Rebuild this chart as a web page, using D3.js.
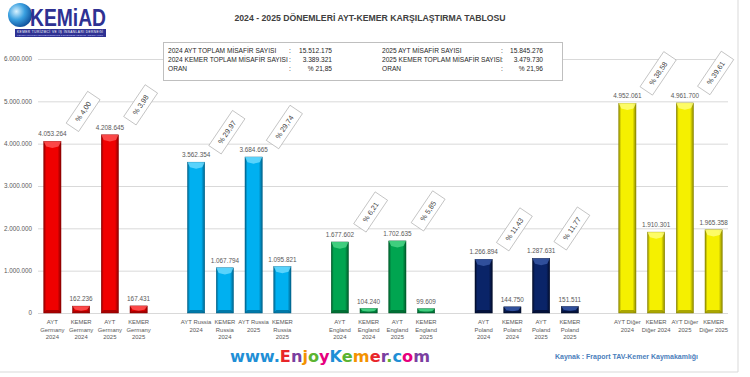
<!DOCTYPE html>
<meta charset="utf-8">
<style>
  body { margin: 0; background: #fff; }
  svg { display: block; font-family: "Liberation Sans", Arial, sans-serif; }
  .grid line { stroke: #d9d9d9; stroke-width: 1px; }
  .ytick { font-size: 6.3px; fill: #595959; text-anchor: end; }
  .xlab { font-size: 5.9px; fill: #595959; text-anchor: middle; }
  .val { font-size: 6.4px; fill: #595959; text-anchor: middle; }
  .info text { font-size: 6.6px; fill: #262626; }
  .oran text { font-size: 7.2px; fill: #404040; text-anchor: middle; }
</style>
<div id="chart"></div>
<script src="https://d3js.org/d3.v7.min.js"></script>
<script>
// data
var countries = ["Germany", "Russia", "England", "Poland", "Diğer"];
var ayt2024   = [4053264, 3562354, 1677602, 1266894, 4952061];
var kemer2024 = [162236, 1067794, 104240, 144750, 1910301];
var ayt2025   = [4208645, 3684665, 1702635, 1287631, 4961700];
var kemer2025 = [167431, 1095821, 99609, 151511, 1965358];
var oran2024  = ["% 4,00", "% 29,97", "% 6,21", "% 11,43", "% 38,58"];
var oran2025  = ["% 3,98", "% 29,74", "% 5,85", "% 11,77", "% 39,61"];
var xLabels = [
  [["AYT", "Germany", "2024"], ["KEMER", "Germany", "2024"], ["AYT", "Germany", "2025"], ["KEMER", "Germany", "2025"]],
  [["AYT Russia", "2024"], ["KEMER", "Russia", "2024"], ["AYT Russia", "2025"], ["KEMER", "Russia", "2025"]],
  [["AYT", "England", "2024"], ["KEMER", "England", "2024"], ["AYT", "England", "2025"], ["KEMER", "England", "2025"]],
  [["AYT", "Poland", "2024"], ["KEMER", "Poland", "2024"], ["AYT", "Poland", "2025"], ["KEMER", "Poland", "2025"]],
  [["AYT Diğer", "2024"], ["KEMER", "Diğer 2024"], ["AYT Diğer", "2025"], ["KEMER", "Diğer 2025"]]
];
var yTicks = [0, 1000000, 2000000, 3000000, 4000000, 5000000, 6000000];
var infoLeft = [
  ["2024 AYT TOPLAM MİSAFİR SAYISI", ":", "15.512.175"],
  ["2024 KEMER TOPLAM MİSAFİR SAYISI", ":", "3.389.321"],
  ["ORAN", ":", "% 21,85"]
];
var infoRight = [
  ["2025 AYT MİSAFİR SAYISI", ":", "15.845.276"],
  ["2025 KEMER TOPLAM MİSAFİR SAYISI", ":", "3.479.730"],
  ["ORAN", ":", "% 21,96"]
];
var palette = [
  {base: "#f00000", light: "#ff5a5a", dark: "#8a0000"},
  {base: "#00b0f0", light: "#6fdcff", dark: "#00628a"},
  {base: "#00a550", light: "#4fd88a", dark: "#005a2a"},
  {base: "#0a2468", light: "#3a5aa8", dark: "#020c2a"},
  {base: "#f5f000", light: "#ffff80", dark: "#8a8600"}
];

var width = 750, height = 377;
var trFmt = d3.formatLocale({decimal: ",", thousands: ".", grouping: [3], currency: ["", ""]}).format(",d");

// build bar rows, with an empty slot between countries
var bars = [], keys = [];
countries.forEach(function (c, i) {
  var vals = [ayt2024[i], kemer2024[i], ayt2025[i], kemer2025[i]];
  vals.forEach(function (v, j) {
    var k = c + "-" + j;
    keys.push(k);
    bars.push({key: k, value: v, group: i, idx: j, label: xLabels[i][j]});
  });
  if (i < countries.length - 1) keys.push("gap" + i);
});

var x = d3.scaleBand().domain(keys).range([38, 728]);
var y = d3.scaleLinear().domain([0, 6000000]).range([313, 59]);

var svg = d3.select("#chart").append("svg")
  .attr("width", width).attr("height", height);
var defs = svg.append("defs");

palette.forEach(function (p, i) {
  var g = defs.append("linearGradient").attr("id", "bar" + i)
    .attr("x1", "0").attr("x2", "1").attr("y1", "0").attr("y2", "0");
  g.append("stop").attr("offset", "0").attr("stop-color", p.dark);
  g.append("stop").attr("offset", "0.14").attr("stop-color", p.base);
  g.append("stop").attr("offset", "0.45").attr("stop-color", p.base);
  g.append("stop").attr("offset", "0.8").attr("stop-color", p.base);
  g.append("stop").attr("offset", "1").attr("stop-color", p.dark);
});
var sph = defs.append("radialGradient").attr("id", "sphere")
  .attr("cx", "0.35").attr("cy", "0.35").attr("r", "0.7");
sph.append("stop").attr("offset", "0").attr("stop-color", "#d8f2ff");
sph.append("stop").attr("offset", "0.5").attr("stop-color", "#3aa0e0");
sph.append("stop").attr("offset", "1").attr("stop-color", "#0d4f9a");

// frame
svg.append("line").attr("x1", 738).attr("x2", 738).attr("y1", 0).attr("y2", 372)
  .attr("stroke", "#d9d9d9");
svg.append("line").attr("x1", 0).attr("x2", 738).attr("y1", 372).attr("y2", 372)
  .attr("stroke", "#d9d9d9");

// grid + y labels
var grid = svg.append("g").attr("class", "grid");
grid.selectAll("line").data(yTicks).enter().append("line")
  .attr("x1", 38).attr("x2", 728)
  .attr("y1", function (d) { return y(d) + 0.5; })
  .attr("y2", function (d) { return y(d) + 0.5; });
svg.append("g").selectAll("text").data(yTicks).enter().append("text")
  .attr("class", "ytick")
  .attr("x", 32).attr("y", function (d) { return y(d) + 2.3; })
  .text(function (d) { return trFmt(d); });

// bars
var bw = x.bandwidth() * 0.6;
var bar = svg.append("g").selectAll("g").data(bars).enter().append("g")
  .attr("transform", function (d) { return "translate(" + (x(d.key) + (x.bandwidth() - bw) / 2) + ",0)"; });
bar.append("rect")
  .attr("y", function (d) { return y(d.value); })
  .attr("width", bw)
  .attr("height", function (d) { return y(0) - y(d.value); })
  .attr("fill", function (d) { return "url(#bar" + d.group + ")"; })
  .attr("stroke", function (d) { return palette[d.group].dark; })
  .attr("stroke-width", 0.5);
// top bevel
bar.append("path")
  .attr("d", function (d) {
    var t = y(d.value), h = Math.min(bw * 0.3, (y(0) - t) / 2);
    return "M0," + t + "L" + bw + "," + t + "L" + (bw - 2.5) + "," + (t + h) +
      "L" + (bw / 2) + "," + (t + h + 1.5) + "L2.5," + (t + h) + "Z";
  })
  .attr("fill", function (d) { return palette[d.group].light; })
  .attr("opacity", 0.8);
// bottom shade
bar.append("path")
  .attr("d", function (d) {
    var b = y(0), h = Math.min(3, (y(0) - y(d.value)) / 3);
    return "M0," + b + "L" + bw + "," + b + "L" + (bw - 2.5) + "," + (b - h) + "L2.5," + (b - h) + "Z";
  })
  .attr("fill", function (d) { return palette[d.group].dark; })
  .attr("opacity", 0.7);

// value labels
svg.append("g").selectAll("text").data(bars).enter().append("text")
  .attr("class", "val")
  .attr("x", function (d) { return x(d.key) + x.bandwidth() / 2; })
  .attr("y", function (d) { return y(d.value) - 5; })
  .text(function (d) { return trFmt(d.value); });

// x labels
var xl = svg.append("g").selectAll("text").data(bars).enter().append("text")
  .attr("class", "xlab")
  .attr("x", function (d) { return x(d.key) + x.bandwidth() / 2; })
  .attr("y", 324);
xl.selectAll("tspan").data(function (d) { return d.label; }).enter().append("tspan")
  .attr("x", function () { return d3.select(this.parentNode).attr("x"); })
  .attr("dy", function (d, i) { return i ? 7.6 : 0; })
  .text(function (d) { return d; });

// rotated ratio boxes
var boxes = [];
countries.forEach(function (c, i) {
  boxes.push({key: c + "-1", ref: ayt2024[i], text: oran2024[i]});
  boxes.push({key: c + "-3", ref: ayt2025[i], text: oran2025[i]});
});
var ob = svg.append("g").attr("class", "oran").selectAll("g").data(boxes).enter().append("g")
  .attr("transform", function (d) {
    return "translate(" + (x(d.key) + x.bandwidth() / 2 + 2) + "," + (y(d.ref) - 30) + ") rotate(-56)";
  });
ob.append("text").attr("y", 2.6).text(function (d) { return d.text; });
ob.each(function () {
  var g = d3.select(this), w = g.select("text").node().getComputedTextLength() + 16;
  g.insert("rect", "text").attr("x", -w / 2).attr("y", -7.5).attr("width", w).attr("height", 15)
    .attr("fill", "#fff").attr("stroke", "#a6a6a6").attr("stroke-width", 0.6);
});

// info box
var info = svg.append("g").attr("class", "info");
info.append("rect").attr("x", 163.5).attr("y", 42.5).attr("width", 399).attr("height", 38)
  .attr("fill", "#fff").attr("stroke", "#bfbfbf");
function infoCol(rows, x0, xc, xv) {
  rows.forEach(function (r, i) {
    var yy = 52.5 + i * 9;
    info.append("text").attr("x", x0).attr("y", yy).text(r[0]);
    info.append("text").attr("x", xc).attr("y", yy).text(r[1]);
    info.append("text").attr("x", xv).attr("y", yy).attr("text-anchor", "end").text(r[2]);
  });
}
infoCol(infoLeft, 168, 289, 332);
infoCol(infoRight, 382, 501, 543);

// title
svg.append("text").attr("x", 370).attr("y", 21).attr("text-anchor", "middle")
  .attr("font-size", 8.7).attr("font-weight", "bold").attr("fill", "#404040")
  .text("2024 - 2025 DÖNEMLERİ AYT-KEMER KARŞILAŞTIRMA TABLOSU");

// logo
var logo = svg.append("g");
logo.append("circle").attr("cx", 20).attr("cy", 15).attr("r", 12).attr("fill", "url(#sphere)");
logo.append("text").attr("x", 30).attr("y", 26).attr("font-size", 23).attr("font-weight", "bold")
  .attr("fill", "#2e3192").attr("textLength", 76).attr("lengthAdjust", "spacingAndGlyphs")
  .text("KEMiAD");
logo.append("rect").attr("x", 15).attr("y", 29).attr("width", 91).attr("height", 8).attr("fill", "#2e3192");
logo.append("text").attr("x", 17).attr("y", 32.5).attr("font-size", 3.2).attr("fill", "#fff")
  .attr("textLength", 86).text("KEMER TURİZMCİ VE İŞ İNSANLARI DERNEĞİ");
logo.append("text").attr("x", 17).attr("y", 36).attr("font-size", 2.4).attr("fill", "#c8c8ff")
  .attr("textLength", 86).text("KEMER TOURISM ENTREPRENEURS & BUSINESS PEOPLE ASSOCIATION");

// footer
var site = "www.EnjoyKemer.com".split("");
var siteCols = ["#1f8fd6", "#1f8fd6", "#1f8fd6", "#1f8fd6", "#e8262a", "#7b3fa0", "#f39200", "#5bb431",
  "#e6007e", "#1f8fd6", "#5bb431", "#f39200", "#e8262a", "#7b3fa0", "#5bb431", "#1f8fd6", "#e6007e", "#7b3fa0"];
var ft = svg.append("text").attr("x", 230).attr("y", 362).attr("font-size", 15)
  .attr("font-family", "'DejaVu Sans', sans-serif").attr("font-weight", "bold")
  .attr("textLength", 200).attr("lengthAdjust", "spacingAndGlyphs");
ft.selectAll("tspan").data(site).enter().append("tspan")
  .attr("fill", function (d, i) { return siteCols[i]; })
  .text(function (d) { return d; });
svg.append("text").attr("x", 555).attr("y", 359).attr("font-size", 7.4).attr("font-weight", "bold")
  .attr("fill", "#4a7ebb").attr("textLength", 143).attr("lengthAdjust", "spacingAndGlyphs")
  .text("Kaynak : Fraport TAV-Kemer Kaymakamlığı");
</script>
